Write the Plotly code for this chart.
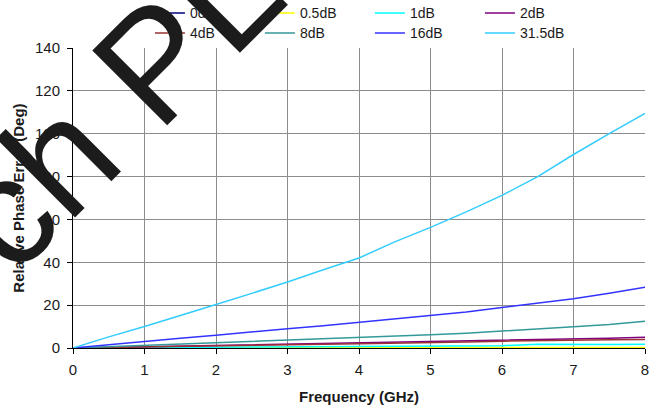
import plotly.graph_objects as go

freq = [0, 0.5, 1, 1.5, 2, 2.5, 3, 3.5, 4, 4.5, 5, 5.5, 6, 6.5, 7, 7.5, 8]

series_names = ["0dB", "0.5dB", "1dB", "2dB", "4dB", "8dB", "16dB", "31.5dB"]
err_0dB = [0, 0, 0, 0, 0, 0, 0, 0, 0, 0, 0, 0, 0, 0, 0, 0, 0]
err_0p5dB = [0, 0.1, 0.2, 0.2, 0.2, 0.3, 0.3, 0.3, 0.3, 0.3, 0.2, 0.3, 0.3, 0.3, 0.3, 0.2, 0.2]
err_1dB = [0, 0.1, 0.2, 0.3, 0.4, 0.5, 0.6, 0.7, 0.8, 0.9, 1.0, 1.0, 1.1, 1.7, 1.5, 1.6, 1.7]
err_2dB = [0, 0.3, 0.6, 0.9, 1.2, 1.5, 1.7, 2.0, 2.2, 2.5, 2.8, 3.2, 3.7, 4.0, 4.3, 4.6, 5.0]
err_4dB = [0, 0.2, 0.4, 0.7, 1.0, 1.2, 1.5, 1.7, 2.0, 2.2, 2.5, 2.8, 3.2, 3.5, 3.8, 3.9, 4.0]
err_8dB = [0, 0.6, 1.2, 1.8, 2.3, 2.9, 3.5, 4.2, 5.0, 5.5, 6.2, 6.9, 7.8, 8.8, 9.9, 11.0, 12.5]
err_16dB = [0, 1.6, 3.1, 4.6, 6.0, 7.6, 9.0, 10.4, 12.0, 13.4, 15.0, 16.8, 18.9, 20.8, 23.0, 25.5, 28.3]
err_31p5dB = [0, 5.2, 10, 15, 20.3, 25.5, 30.8, 36.5, 42, 49.5, 56.3, 63.5, 71.2, 80, 90.3, 100, 109.5]

series_values = [err_0dB, err_0p5dB, err_1dB, err_2dB, err_4dB, err_8dB, err_16dB, err_31p5dB]
colors = ["#000080", "#FFFF00", "#00FFFF", "#800080", "#993333", "#339999", "#3333FF", "#33CCFF"]
legend_rows = ["legend", "legend", "legend", "legend", "legend2", "legend2", "legend2", "legend2"]

x_ticks = [0, 1, 2, 3, 4, 5, 6, 7, 8]
y_ticks = [0, 20, 40, 60, 80, 100, 120, 140]

fig = go.Figure()
for name, vals, col, lg in zip(series_names, series_values, colors, legend_rows):
    fig.add_trace(go.Scatter(x=freq, y=vals, mode="lines", name=name, legend=lg,
                             line=dict(color=col, width=1.5)))

font_family = "Arial, Liberation Sans, sans-serif"
ml, mr, mt, mb = 73, 16.5, 47.7, 64
W, H = 662, 412
pw, ph = W - ml - mr, H - mt - mb

def px_to_paper(px, py):
    return (px - ml) / pw, (H - mb - py) / ph

wx, wy = px_to_paper(114.7, 102.8)
lx, ly1 = px_to_paper(150, 13)
_, ly2 = px_to_paper(150, 33)

legend_common = dict(orientation="h", xanchor="left", yanchor="middle",
                     entrywidth=65, entrywidthmode="pixels",
                     font=dict(size=14, family=font_family, color="#1a1a1a"),
                     bgcolor="rgba(0,0,0,0)", itemwidth=30, traceorder="normal")

fig.update_layout(
    width=W, height=H,
    margin=dict(l=ml, r=mr, t=mt, b=mb, pad=0, autoexpand=False),
    paper_bgcolor="white", plot_bgcolor="white",
    font=dict(family=font_family, color="#1a1a1a", size=15),
    showlegend=True,
    legend=dict(x=lx, y=ly1, **legend_common),
    legend2=dict(x=lx, y=ly2, **legend_common),
    xaxis=dict(range=[0, 8], tickvals=x_ticks, ticktext=[str(v) for v in x_ticks],
               showgrid=True, gridcolor="#8c8c8c", gridwidth=1,
               showline=True, linecolor="black", linewidth=1,
               ticks="outside", ticklen=5, tickcolor="black", ticklabelstandoff=3,
               zeroline=False, title=dict(text="<b>Frequency (GHz)</b>", standoff=14,
                                          font=dict(size=15))),
    yaxis=dict(range=[0, 140], tickvals=y_ticks, ticktext=[str(v) for v in y_ticks],
               showgrid=True, gridcolor="#8c8c8c", gridwidth=1,
               showline=True, linecolor="black", linewidth=1,
               ticks="outside", ticklen=5, tickcolor="black", ticklabelstandoff=4,
               zeroline=False, title=dict(text="<b>Relative Phase Error (Deg)</b>", standoff=6,
                                          font=dict(size=15))),
    annotations=[dict(text="ch PL", xref="paper", yref="paper", x=wx, y=wy,
                      xanchor="center", yanchor="middle", showarrow=False,
                      textangle=-45, font=dict(size=154, family=font_family, color="#1c1c1c"))],
)

fig.write_html("out.html")
